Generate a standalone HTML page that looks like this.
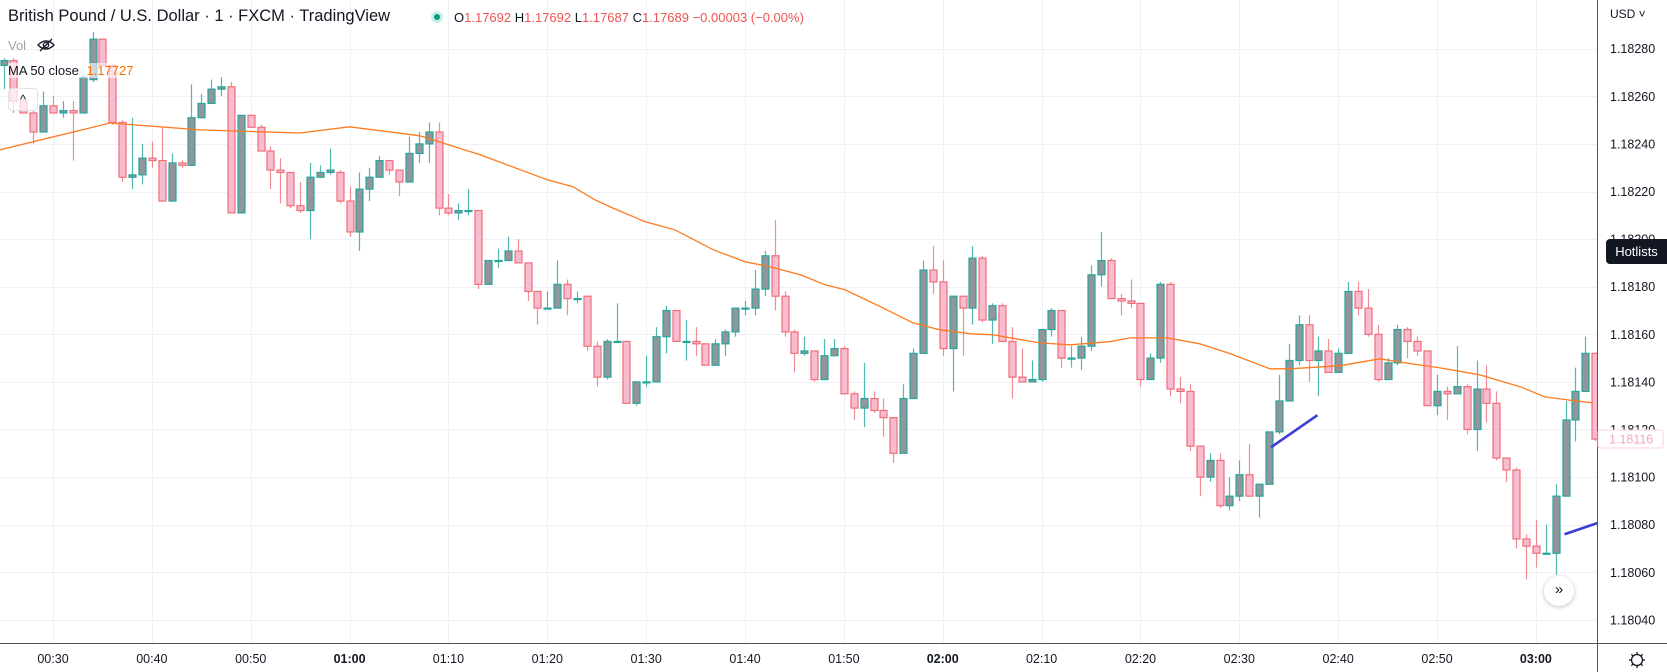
<!DOCTYPE html>
<html>
<head>
<meta charset="utf-8">
<style>
  html,body{margin:0;padding:0;background:#fff;}
  body{width:1667px;height:672px;overflow:hidden;position:relative;font-family:"Liberation Sans",sans-serif;}
  svg{position:absolute;left:0;top:0;}
  .hdr{position:absolute;white-space:nowrap;}
</style>
</head>
<body>
<svg id="chart" width="1667" height="672" viewBox="0 0 1667 672"></svg>

<div class="hdr" style="left:8px;top:7px;font-size:16.5px;color:#131722;">British Pound / U.S. Dollar · 1 · FXCM · TradingView</div>
<div class="hdr" style="left:431px;top:11px;width:12px;height:12px;border-radius:50%;background:#c8eee8;"><div style="position:absolute;left:3px;top:3px;width:6px;height:6px;border-radius:50%;background:#089981;"></div></div>
<div class="hdr" style="left:454px;top:10px;font-size:13px;color:#131722;">O<span style="color:#ef5350">1.17692</span> H<span style="color:#ef5350">1.17692</span> L<span style="color:#ef5350">1.17687</span> C<span style="color:#ef5350">1.17689</span> <span style="color:#ef5350">−0.00003 (−0.00%)</span></div>
<div class="hdr" style="left:8px;top:36px;font-size:13px;color:#a3a6af;">Vol
  <svg style="position:relative;left:6px;top:2px;" width="20" height="14" viewBox="0 0 20 14"><path d="M2 7 Q10 -1 18 7 Q10 15 2 7 Z" fill="none" stroke="#131722" stroke-width="1.3"/><circle cx="10" cy="7" r="2.6" fill="none" stroke="#131722" stroke-width="1.3"/><line x1="4" y1="13" x2="16" y2="1" stroke="#131722" stroke-width="1.3"/></svg>
</div>
<div class="hdr" style="left:8px;top:63px;font-size:13px;color:#131722;background:rgba(255,255,255,0.6);">MA 50 close <span style="color:#ff6d00;margin-left:4px;">1.17727</span></div>
<div class="hdr" style="left:8px;top:88px;width:28px;height:21px;border:1px solid #e0e3eb;border-radius:4px;background:rgba(255,255,255,0.7);font-size:13px;text-align:center;line-height:22px;color:#131722;">^</div>

<div class="hdr" style="left:1606px;top:239px;width:61px;height:25px;background:#131722;color:#fff;font-size:13px;line-height:25px;text-align:center;border-radius:4px 0 0 4px;">Hotlists</div>

<div class="hdr" style="left:1544px;top:576px;width:30px;height:30px;border-radius:50%;background:#fff;box-shadow:0 1px 4px rgba(0,0,0,0.25);font-size:15px;line-height:28px;text-align:center;color:#131722;">»</div>

<div class="hdr" style="left:1610px;top:7px;font-size:12px;color:#131722;">USD ˅</div>

<script>
// ---- Data (prices) ----
const startMinute = 25; // first candle 00:25
const opens = [1.18273,1.18275,1.18258,1.18253,1.18245,1.18256,1.18253,1.18254,1.18253,1.18267,
1.18284,1.18273,1.18249,1.18226,1.18227,1.18234,1.18233,1.18216,1.18232,1.18231,
1.18251,1.18257,1.18263,1.18264,1.18211,1.18252,1.18247,1.18237,1.18229,1.18228,
1.18214,1.18212,1.18226,1.18228,1.18228,1.18216,1.18203,1.18221,1.18226,1.18233,
1.18229,1.18224,1.18236,1.18240,1.18245,1.18213,1.18211,1.18212,1.18212,1.18181,
1.18191,1.18191,1.18195,1.18190,1.18178,1.18171,1.18171,1.18181,1.18175,1.18176,
1.18155,1.18142,1.18157,1.18157,1.18131,1.18140,1.18140,1.18159,1.18170,1.18157,
1.18157,1.18156,1.18147,1.18156,1.18161,1.18171,1.18171,1.18179,1.18193,1.18176,
1.18161,1.18152,1.18153,1.18141,1.18151,1.18154,1.18135,1.18129,1.18133,1.18128,
1.18125,1.18110,1.18133,1.18152,1.18187,1.18182,1.18154,1.18176,1.18171,1.18192,
1.18166,1.18172,1.18157,1.18142,1.18140,1.18141,1.18162,1.18170,1.18150,1.18150,
1.18155,1.18185,1.18191,1.18175,1.18174,1.18173,1.18141,1.18150,1.18181,1.18137,
1.18136,1.18113,1.18100,1.18107,1.18088,1.18092,1.18101,1.18092,1.18097,1.18119,
1.18132,1.18149,1.18164,1.18149,1.18153,1.18144,1.18152,1.18178,1.18171,1.18160,
1.18141,1.18148,1.18162,1.18157,1.18153,1.18130,1.18136,1.18135,1.18138,1.18120,
1.18137,1.18131,1.18108,1.18103,1.18074,1.18071,1.18068,1.18068,1.18092,1.18124,
1.18136,1.18152];
const highs = [1.18276,1.18276,1.18260,1.18254,1.18262,1.18260,1.18258,1.18258,1.18269,1.18287,
1.18284,1.18273,1.18250,1.18251,1.18240,1.18241,1.18247,1.18236,1.18233,1.18265,
1.18261,1.18267,1.18268,1.18266,1.18252,1.18252,1.18248,1.18239,1.18234,1.18228,
1.18224,1.18232,1.18231,1.18238,1.18229,1.18222,1.18228,1.18230,1.18235,1.18233,
1.18229,1.18243,1.18245,1.18249,1.18249,1.18219,1.18215,1.18221,1.18212,1.18191,
1.18196,1.18201,1.18200,1.18190,1.18178,1.18178,1.18191,1.18183,1.18178,1.18176,
1.18157,1.18158,1.18173,1.18157,1.18140,1.18151,1.18163,1.18172,1.18170,1.18166,
1.18163,1.18156,1.18158,1.18162,1.18171,1.18174,1.18187,1.18195,1.18208,1.18178,
1.18162,1.18159,1.18153,1.18158,1.18158,1.18155,1.18136,1.18148,1.18136,1.18133,
1.18125,1.18139,1.18154,1.18191,1.18197,1.18191,1.18176,1.18176,1.18197,1.18193,
1.18173,1.18173,1.18163,1.18154,1.18149,1.18162,1.18171,1.18170,1.18155,1.18159,
1.18189,1.18203,1.18192,1.18177,1.18183,1.18173,1.18152,1.18182,1.18182,1.18142,
1.18139,1.18113,1.18110,1.18110,1.18100,1.18107,1.18114,1.18097,1.18119,1.18143,
1.18156,1.18168,1.18168,1.18159,1.18158,1.18154,1.18182,1.18182,1.18179,1.18164,
1.18150,1.18164,1.18163,1.18159,1.18153,1.18143,1.18138,1.18155,1.18139,1.18149,
1.18147,1.18136,1.18108,1.18104,1.18076,1.18082,1.18080,1.18097,1.18132,1.18146,
1.18159,1.18152];
const lows = [1.18263,1.18253,1.18253,1.18240,1.18245,1.18253,1.18251,1.18233,1.18253,1.18266,
1.18273,1.18248,1.18224,1.18221,1.18223,1.18230,1.18216,1.18216,1.18230,1.18231,
1.18251,1.18257,1.18260,1.18211,1.18211,1.18247,1.18237,1.18221,1.18215,1.18213,
1.18211,1.18200,1.18226,1.18227,1.18215,1.18201,1.18195,1.18216,1.18226,1.18227,
1.18218,1.18224,1.18232,1.18232,1.18210,1.18210,1.18208,1.18210,1.18179,1.18181,
1.18188,1.18191,1.18190,1.18174,1.18164,1.18171,1.18171,1.18168,1.18173,1.18153,
1.18138,1.18141,1.18157,1.18131,1.18130,1.18138,1.18140,1.18152,1.18157,1.18149,
1.18151,1.18147,1.18147,1.18151,1.18159,1.18168,1.18168,1.18176,1.18170,1.18159,
1.18144,1.18151,1.18140,1.18141,1.18151,1.18135,1.18124,1.18121,1.18127,1.18117,
1.18106,1.18110,1.18133,1.18152,1.18177,1.18151,1.18136,1.18151,1.18164,1.18165,
1.18156,1.18157,1.18133,1.18140,1.18140,1.18140,1.18159,1.18146,1.18146,1.18145,
1.18153,1.18180,1.18175,1.18168,1.18171,1.18138,1.18141,1.18148,1.18134,1.18131,
1.18111,1.18092,1.18098,1.18087,1.18086,1.18090,1.18092,1.18083,1.18097,1.18118,
1.18132,1.18147,1.18140,1.18134,1.18144,1.18144,1.18152,1.18168,1.18159,1.18140,
1.18141,1.18147,1.18150,1.18151,1.18130,1.18126,1.18124,1.18135,1.18118,1.18111,
1.18123,1.18107,1.18098,1.18070,1.18057,1.18062,1.18068,1.18059,1.18092,1.18115,
1.18136,1.18115];
const closes = [1.18275,1.18258,1.18253,1.18245,1.18256,1.18253,1.18254,1.18253,1.18268,1.18284,
1.18273,1.18249,1.18226,1.18227,1.18234,1.18233,1.18216,1.18232,1.18231,1.18251,
1.18257,1.18263,1.18264,1.18211,1.18252,1.18247,1.18237,1.18229,1.18228,1.18214,
1.18212,1.18226,1.18228,1.18229,1.18216,1.18203,1.18221,1.18226,1.18233,1.18229,
1.18224,1.18236,1.18240,1.18245,1.18213,1.18211,1.18212,1.18212,1.18181,1.18191,
1.18191,1.18195,1.18190,1.18178,1.18171,1.18171,1.18181,1.18175,1.18175,1.18155,
1.18142,1.18157,1.18157,1.18131,1.18140,1.18140,1.18159,1.18170,1.18157,1.18157,
1.18156,1.18147,1.18156,1.18161,1.18171,1.18171,1.18179,1.18193,1.18176,1.18161,
1.18152,1.18153,1.18141,1.18151,1.18154,1.18135,1.18129,1.18133,1.18128,1.18125,
1.18110,1.18133,1.18152,1.18187,1.18182,1.18154,1.18176,1.18171,1.18192,1.18166,
1.18172,1.18157,1.18142,1.18140,1.18141,1.18162,1.18170,1.18150,1.18150,1.18155,
1.18185,1.18191,1.18175,1.18174,1.18173,1.18141,1.18150,1.18181,1.18137,1.18136,
1.18113,1.18100,1.18107,1.18088,1.18092,1.18101,1.18092,1.18097,1.18119,1.18132,
1.18149,1.18164,1.18149,1.18153,1.18144,1.18152,1.18178,1.18171,1.18160,1.18141,
1.18148,1.18162,1.18157,1.18153,1.18130,1.18136,1.18135,1.18138,1.18120,1.18137,
1.18131,1.18108,1.18103,1.18074,1.18071,1.18068,1.18068,1.18092,1.18124,1.18136,
1.18152,1.18116];
// MA 50 line: candle index -> value
const maIndex = [-0.4,10.8,19.9,30,35,42.1,48.2,55,57.6,59.8,61.6,64.9,67.9,71.8,75,77.5,80.6,83.1,85.1,88.7,92,94.7,97.8,100.1,104.8,107.9,111.9,113.9,117.7,121,124.1,128.1,130.1,135.2,139.2,141.8,145.3,149.3,153.4,155.9,159,160.8];
const maValues = [1.182375,1.182488,1.182459,1.182446,1.182472,1.182434,1.182354,1.182249,1.18222,1.182165,1.182131,1.182073,1.182039,1.181955,1.181905,1.181884,1.18185,1.181808,1.181787,1.181716,1.181648,1.181619,1.181602,1.181598,1.181564,1.181556,1.181569,1.181585,1.181585,1.18156,1.181518,1.181455,1.181455,1.181468,1.181497,1.18148,1.181459,1.18143,1.18138,1.181337,1.18132,1.181312];
const priceTicks = [1.18280,1.18260,1.18240,1.18220,1.18200,1.18180,1.18160,1.18140,1.18120,1.18100,1.18080,1.18060,1.18040];
const timeTicks = ["00:30","00:40","00:50","01:00","01:10","01:20","01:30","01:40","01:50","02:00","02:10","02:20","02:30","02:40","02:50","03:00"];
const boldTicks = ["01:00","02:00","03:00"];
const lastPrice = 1.18116;
// trend line drawings: [startIndex, startPrice, endIndex, endPrice]
const drawing1 = [128.2, 1.181125, 132.9, 1.18126];
const drawing2 = [157.9, 1.18076, 163.2, 1.180835];

// ---- Axis functions ----
const PLOT_R = 1597, PLOT_B = 643;
function xOf(i){ return 53 + (i - 5) * 9.886; }
function yOf(p){ return 286.7 - (p - 1.18180) * 238000; }
function xOfTime(t){ const [h,m]=t.split(':').map(Number); return xOf(h*60+m-startMinute); }

const NS = "http://www.w3.org/2000/svg";
const svg = document.getElementById('chart');
function el(tag, attrs, parent){
  const e = document.createElementNS(NS, tag);
  for (const k in attrs) e.setAttribute(k, attrs[k]);
  (parent || svg).appendChild(e);
  return e;
}

const defs = el('defs', {});
const cp = el('clipPath', {id:'plotclip'}, defs);
el('rect', {x:0, y:0, width:PLOT_R, height:PLOT_B}, cp);

// grid
const grid = el('g', {});


priceTicks.forEach(p => {
  const y = Math.round(yOf(p)) + 0.5;
  const l = el('line', {x1:0, x2:PLOT_R, y1:y, y2:y, stroke:'#eef1f7', 'stroke-width':1}, grid);
  
  
});
timeTicks.forEach(t => {
  const x = Math.round(xOfTime(t)) + 0.5;
  const l = el('line', {x1:x, x2:x, y1:0, y2:PLOT_B, stroke:'#eef1f7', 'stroke-width':1}, grid);
  
  
});

const plot = el('g', {'clip-path':'url(#plotclip)'});



// candles
for (let i = 0; i < opens.length; i++) {
  const o = opens[i], h = highs[i], l = lows[i], c = closes[i];
  const up = c >= o;
  const cx = Math.round(xOf(i));
  const g = el('g', {}, plot);
  
  
  const stroke = up ? '#26a69a' : '#ef6f78';
  const fill = up ? '#93959c' : '#f8bbd0';
  el('line', {x1:cx+0.5, x2:cx+0.5, y1:yOf(h), y2:yOf(l), stroke:stroke, 'stroke-width':1.2, 'stroke-opacity':0.8}, g);
  const top = yOf(Math.max(o,c)), bot = yOf(Math.min(o,c));
  el('rect', {x:cx-3, y:top, width:7, height:Math.max(1, bot-top), fill:fill, stroke:stroke, 'stroke-width':1.2}, g);
}

// MA line
let d = '';
for (let k = 0; k < maIndex.length; k++) d += (k ? 'L' : 'M') + xOf(maIndex[k]).toFixed(1) + ' ' + yOf(maValues[k]).toFixed(1);
const ma = el('path', {d:d, fill:'none', stroke:'#ff7a1f', 'stroke-width':1.3}, plot);



// drawings
[drawing1, drawing2].forEach(dr => {
  const ln = el('line', {x1:xOf(dr[0]), y1:yOf(dr[1]), x2:xOf(dr[2]), y2:yOf(dr[3]), stroke:'#3d3dd6', 'stroke-width':2.6});
  
  
});

// axes
const axes = el('g', {});


el('rect', {x:PLOT_R+1, y:0, width:1667-PLOT_R-1, height:672, fill:'#fff'}, axes);
el('rect', {x:0, y:PLOT_B+1, width:1667, height:672-PLOT_B-1, fill:'#fff'}, axes);
el('line', {x1:PLOT_R+0.5, x2:PLOT_R+0.5, y1:0, y2:672, stroke:'#50535e', 'stroke-width':1}, axes);
el('line', {x1:0, x2:1667, y1:PLOT_B+0.5, y2:PLOT_B+0.5, stroke:'#50535e', 'stroke-width':1}, axes);

priceTicks.forEach(p => {
  const t = el('text', {x:1610, y:yOf(p)+4.5, 'font-size':12.5, fill:'#131722', 'font-family':'Liberation Sans, sans-serif'}, axes);
  
  
  t.textContent = p.toFixed(5);
});
timeTicks.forEach(tt => {
  const t = el('text', {x:xOfTime(tt), y:663, 'text-anchor':'middle', 'font-size':12.5, fill:'#131722', 'font-weight': boldTicks.includes(tt) ? 'bold' : 'normal', 'font-family':'Liberation Sans, sans-serif'}, axes);
  
  
  t.textContent = tt;
});

// last price label
const lp = el('g', {});


const ly = yOf(lastPrice);
el('rect', {x:PLOT_R+1, y:ly-9, width:65, height:18, fill:'#fff', stroke:'#fbd2de', 'stroke-width':1, rx:2}, lp);
const lt = el('text', {x:1609, y:ly+4.5, 'font-size':12.5, fill:'#f7a5bf', 'font-family':'Liberation Sans, sans-serif'}, lp);
lt.textContent = lastPrice.toFixed(5);

// settings gear
const gear = el('g', {transform:'translate(1637,660)'});


el('circle', {cx:0, cy:0, r:5.5, fill:'none', stroke:'#131722', 'stroke-width':1.3}, gear);
for (let a = 0; a < 8; a++) {
  const r = a * Math.PI / 4;
  el('line', {x1:Math.cos(r)*5.5, y1:Math.sin(r)*5.5, x2:Math.cos(r)*8, y2:Math.sin(r)*8, stroke:'#131722', 'stroke-width':1.3}, gear);
}
</script>
</body>
</html>
